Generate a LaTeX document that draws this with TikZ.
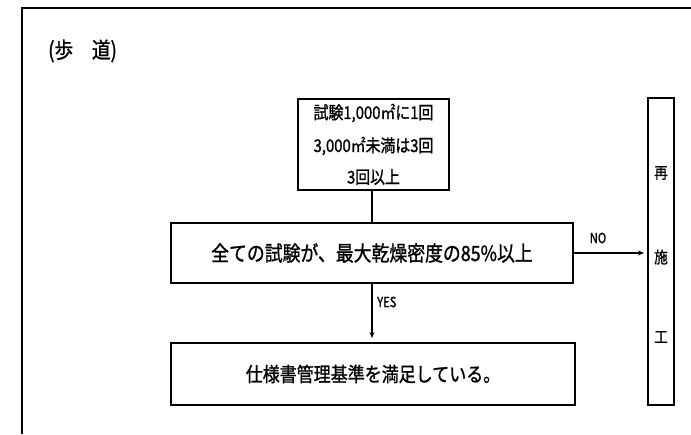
\documentclass[tikz,border=0pt]{standalone}
\usepackage{fontspec}
\usepackage{graphicx}
\usetikzlibrary{arrows.meta}
\newfontfamily\jp{Noto Sans CJK JP}[FakeBold=1.2]
\newcommand\cond[2][0.85]{\scalebox{#1}[1]{#2}}
\begin{document}
\begin{tikzpicture}[x=1pt,y=-1pt,
  box/.style={draw,line width=1.6pt,inner sep=0pt},
  conn/.style={line width=1.3pt},
  arr/.style={line width=1.3pt,-{Stealth[length=6pt,width=5pt]}},
  lbl/.style={font=\jp\fontsize{14}{14}\selectfont,inner sep=0pt},
  topline/.style={font=\jp\fontsize{17.5}{17.5}\selectfont,inner sep=0pt},
  vchar/.style={font=\jp\fontsize{16}{16}\selectfont,inner sep=0pt}]
\useasboundingbox (0,0) rectangle (691,434);
\fill[white] (0,0) rectangle (691,434);
% frame
\draw[line width=1.4pt] (22,434) -- (22,8) -- (691,8);
% title
\node[font=\jp\fontsize{22}{22}\selectfont,anchor=west,inner sep=0pt] (title) at (48,51) {\cond{(歩　道)}};
% top box
\node[box,minimum width=151pt,minimum height=91pt] (top) at (373.5,144.5) {};
\node[topline] (l1) at (373.5,113) {\cond{試験1,000㎡に1回}};
\node[topline] (l2) at (373.5,146) {\cond{3,000㎡未満は3回}};
\node[topline] (l3) at (373.5,177) {\cond{3回以上}};
% middle box
\node[box,minimum width=402pt,minimum height=60pt,font=\jp\fontsize{21}{21}\selectfont] (mid) at (372,253) {\cond{全ての試験が、最大乾燥密度の85\%以上}};
% bottom box
\node[box,minimum width=404pt,minimum height=62pt,font=\jp\fontsize{20}{20}\selectfont] (bot) at (373,374) {\cond{仕様書管理基準を満足している。}};
% tall box
\node[box,minimum width=26pt,minimum height=307pt] (re) at (661,251.5) {};
\node[vchar] (c1) at (661,173) {\cond{再}};
\node[vchar] (c2) at (661,257) {\cond{施}};
\node[vchar] (c3) at (661,337) {\cond{工}};
% connectors
\draw[conn] (top.south -| mid.north) -- (mid.north);
\coordinate (ystop) at (372,338);
\draw[arr] (mid.south) -- (ystop);
\node[lbl,anchor=west] (yes) at (377,302) {\cond[0.8]{YES}};
\coordinate (nostop) at (644,253);
\draw[arr] (mid.east) -- (nostop);
\node[lbl] (no) at (598,238) {\cond[0.8]{NO}};
\end{tikzpicture}
\end{document}
